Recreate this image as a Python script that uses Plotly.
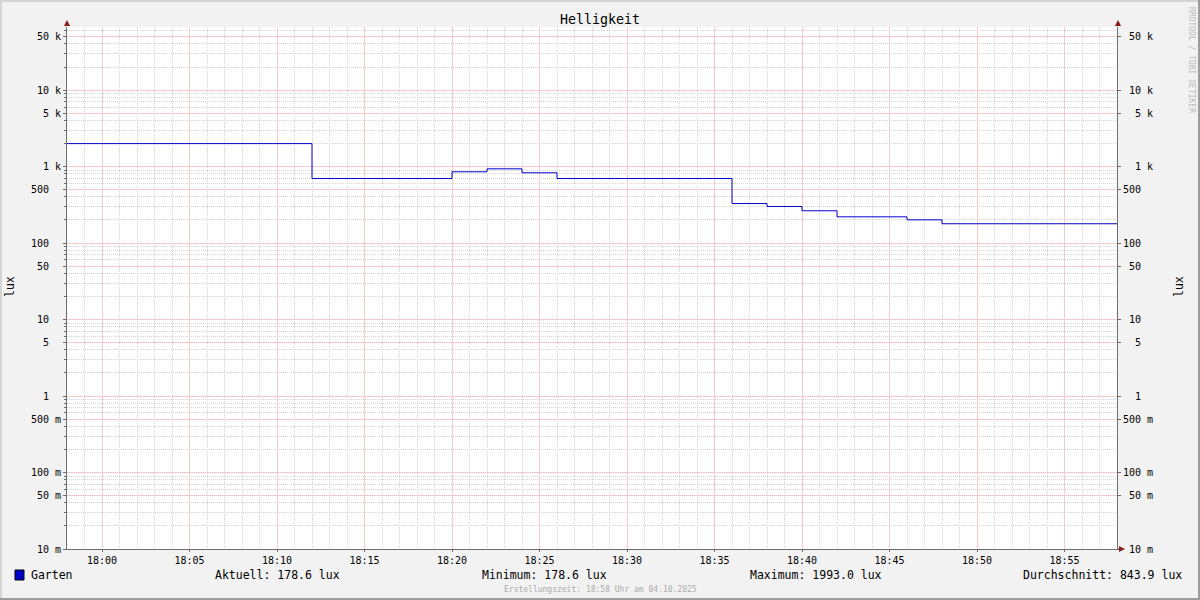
import plotly.graph_objects as go

# step data (lux), each value holds until the next time
times = ["2025-10-04 17:58:00", "2025-10-04 18:12:00", "2025-10-04 18:20:00",
         "2025-10-04 18:22:00", "2025-10-04 18:24:00", "2025-10-04 18:26:00",
         "2025-10-04 18:36:00", "2025-10-04 18:38:00", "2025-10-04 18:40:00",
         "2025-10-04 18:42:00", "2025-10-04 18:46:00", "2025-10-04 18:48:00",
         "2025-10-04 18:58:00"]
lux = [1993.0, 697, 853, 933, 828, 697, 328, 300, 264, 220, 201, 178.6, 178.6]

y_tick_vals = [0.01, 0.05, 0.1, 0.5, 1, 5, 10, 50, 100, 500, 1000, 5000, 10000, 50000]
y_tick_labels = ["10 m", "50 m", "100 m", "500 m", "1", "5", "10", "50", "100", "500",
                 "1 k", "5 k", "10 k", "50 k"]
y_minor_mult = [2, 3, 4, 6, 7, 8, 9]
y_decades = [0.01, 0.1, 1, 10, 100, 1000, 10000]

series_name = "Garten"
stat_current = 178.6
stat_min = 178.6
stat_max = 1993.0
stat_avg = 843.9
created = "Erstellungszeit: 18:58 Uhr am 04.10.2025"

FONT = "DejaVu Sans Mono"
LINE_BLUE = "#0000CC"
MAJOR_GRID = "#F4CACA"
MINOR_GRID = "#D4D4D4"
AXIS_COL = "#6E6E6E"
ARROW_COL = "#8B1A1A"

# plot box in pixels
L, R, T, B = 67, 1117, 27, 549


def px(x):
    return (x - L) / (R - L)


def py(y):
    return (B - y) / (B - T)


def fmt_label(s):
    parts = s.split(" ")
    num = parts[0]
    unit = parts[1] if len(parts) > 1 else " "
    return ("%3s %s" % (num, unit)).replace(" ", "\u00a0")


tick_text = [fmt_label(s) for s in y_tick_labels]
minor_vals = [d * m for d in y_decades for m in y_minor_mult]

fig = go.Figure()

fig.add_trace(
    go.Scatter(x = times,
               y = lux,
               name = series_name,
               mode = "lines",
               line = dict(color = LINE_BLUE, width = 1, shape = "hv"),
               showlegend = False))

# invisible trace so the right axis exists
fig.add_trace(
    go.Scatter(x = [times[0]], y = [lux[0]], yaxis = "y2",
               mode = "markers", marker = dict(opacity = 0),
               showlegend = False, hoverinfo = "skip"))

yrange = [-2, 4.824]

fig.update_layout(
    width = 1200,
    height = 600,
    margin = dict(l = L, r = 1200 - R, t = T, b = 600 - B),
    paper_bgcolor = "#F2F2F2",
    plot_bgcolor = "white",
    font = dict(family = FONT, size = 10, color = "black"),
    showlegend = False,
    xaxis = dict(type = "date",
                 range = [times[0], times[-1]],
                 tick0 = "2025-10-04 18:00:00",
                 dtick = 300000,
                 tickformat = "%H:%M",
                 showgrid = True,
                 gridcolor = MAJOR_GRID,
                 griddash = "solid",
                 gridwidth = 1,
                 showline = True,
                 linecolor = AXIS_COL,
                 linewidth = 1,
                 ticks = "outside",
                 ticklen = 2,
                 tickcolor = AXIS_COL,
                 zeroline = False,
                 tickfont = dict(family = FONT, size = 10),
                 minor = dict(tick0 = "2025-10-04 18:00:00", dtick = 60000,
                              showgrid = True, gridcolor = MINOR_GRID,
                              griddash = "1px,1px", gridwidth = 1, ticks = "")),
    yaxis = dict(type = "log",
                 range = yrange,
                 tickvals = y_tick_vals,
                 ticktext = tick_text,
                 showgrid = True,
                 gridcolor = MAJOR_GRID,
                 griddash = "solid",
                 gridwidth = 1,
                 showline = True,
                 linecolor = AXIS_COL,
                 linewidth = 1,
                 ticks = "outside",
                 ticklen = 3,
                 tickcolor = AXIS_COL,
                 zeroline = False,
                 tickfont = dict(family = FONT, size = 10),
                 minor = dict(tickvals = minor_vals, showgrid = True,
                              gridcolor = MINOR_GRID, griddash = "1px,1px",
                              gridwidth = 1, ticks = "outside", ticklen = 2,
                              tickcolor = AXIS_COL)),
    yaxis2 = dict(type = "log",
                  range = yrange,
                  overlaying = "y",
                  side = "right",
                  tickvals = y_tick_vals,
                  ticktext = tick_text,
                  showgrid = False,
                  showline = True,
                  linecolor = AXIS_COL,
                  linewidth = 1,
                  ticks = "outside",
                  ticklen = 3,
                  tickcolor = AXIS_COL,
                  zeroline = False,
                  tickfont = dict(family = FONT, size = 10)))

shapes = [
    # outer frame
    dict(type = "line", x0 = px(0), x1 = px(1200), y0 = py(1), y1 = py(1),
         line = dict(color = "#D4D4D4", width = 2)),
    dict(type = "line", x0 = px(1), x1 = px(1), y0 = py(0), y1 = py(600),
         line = dict(color = "#D4D4D4", width = 2)),
    dict(type = "line", x0 = px(0), x1 = px(1200), y0 = py(599), y1 = py(599),
         line = dict(color = "#9C9C9C", width = 2)),
    dict(type = "line", x0 = px(1199), x1 = px(1199), y0 = py(0), y1 = py(600),
         line = dict(color = "#9C9C9C", width = 2)),
    # axis extensions + arrows
    dict(type = "line", x0 = px(R), x1 = px(1120), y0 = 0, y1 = 0,
         line = dict(color = AXIS_COL, width = 1)),
    dict(type = "path",
         path = "M %f,%f L %f,%f L %f,%f Z" % (px(64), py(26), px(70), py(26), px(67), py(20)),
         fillcolor = ARROW_COL, line = dict(width = 0)),
    dict(type = "path",
         path = "M %f,%f L %f,%f L %f,%f Z" % (px(1115), py(26), px(1121), py(26), px(1118), py(20)),
         fillcolor = ARROW_COL, line = dict(width = 0)),
    dict(type = "path",
         path = "M %f,%f L %f,%f L %f,%f Z" % (px(1119), py(546), px(1119), py(552), px(1125), py(549)),
         fillcolor = ARROW_COL, line = dict(width = 0)),
    # legend swatch
    dict(type = "rect", x0 = px(15), x1 = px(24), y0 = py(570), y1 = py(580),
         fillcolor = LINE_BLUE, line = dict(color = "black", width = 1)),
]
for s in shapes:
    s.update(xref = "paper", yref = "paper")
fig.update_layout(shapes = shapes)


def note(text, x, y, size = 11.5, color = "black", xanchor = "left", angle = 0):
    fig.add_annotation(text = text, x = px(x), y = py(y), xref = "paper", yref = "paper",
                       xanchor = xanchor, yanchor = "middle", showarrow = False,
                       textangle = angle,
                       font = dict(family = FONT, size = size, color = color))


note("Helligkeit", 600, 19, size = 13.3, xanchor = "center")
note("lux", 10, 287, size = 11.5, xanchor = "center", angle = -90)
note("lux", 1179, 287, size = 11.5, xanchor = "center", angle = -90)
note("RRDTOOL / TOBI OETIKER", 1191, 60, size = 8, color = "#BDBDBD", xanchor = "center", angle = 90)

note(series_name, 29, 575)
note("Aktuell: %.1f lux" % stat_current, 213, 575)
note("Minimum: %.1f lux" % stat_min, 480, 575)
note("Maximum: %.1f lux" % stat_max, 748, 575)
note("Durchschnitt: %.1f lux" % stat_avg, 1184, 575, xanchor = "right")
note(created, 600, 589, size = 8, color = "#ABABAB", xanchor = "center")

# the page body has a default 8px margin; drop it so the chart sits at 0,0
fig.write_html("out.html", config = {"displayModeBar": False},
               post_script = "document.body.style.margin = '0';")
